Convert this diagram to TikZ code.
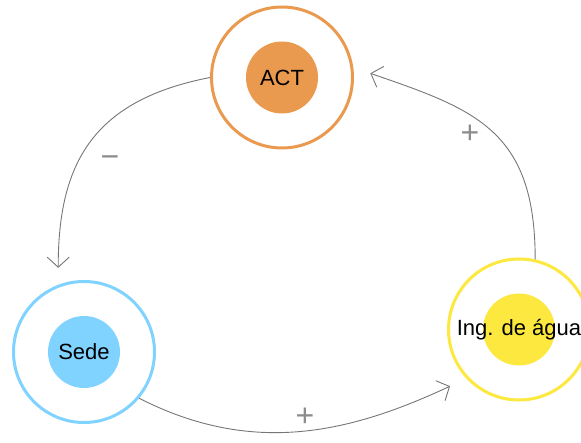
\documentclass[tikz,border=0pt]{standalone}
\usepackage{fontspec}
\setmainfont{Liberation Sans}
\usetikzlibrary{arrows.meta}
\definecolor{actorange}{RGB}{234,154,78}
\definecolor{sedeblue}{RGB}{128,210,255}
\definecolor{aguayellow}{RGB}{252,232,62}
\definecolor{linkgray}{RGB}{118,118,118}
\definecolor{signgray}{RGB}{140,140,140}
\tikzset{
  ring/.style={circle, draw=#1, line width=3pt, fill=white, minimum size=141pt, inner sep=0pt},
  core/.style={circle, fill=#1, minimum size=72pt, inner sep=0pt},
  lbl/.style={font=\fontsize{22}{24}\selectfont, text=black},
  link/.style={draw=linkgray, line width=0.9pt, -{Straight Barb[length=10pt, width=22pt, line width=0.9pt]}},
  sign/.style={font=\fontsize{32}{34}\selectfont, text=signgray}
}
\begin{document}
\begin{tikzpicture}[x=1pt, y=-1pt]
  \useasboundingbox (0,0) rectangle (581,443);
  % the three loop elements
  \node[ring=actorange] (act) at (282,77.5) {};
  \node[core=actorange] (actc) at (282,77.5) {};
  \node[lbl] at (actc) {ACT};
  \node[ring=sedeblue] (sede) at (84,352) {};
  \node[core=sedeblue] (sedec) at (84,352) {};
  \node[lbl] at (sedec) {Sede};
  \node[ring=aguayellow] (agua) at (519,329.5) {};
  \node[core=aguayellow] (aguac) at (519,329.5) {};
  \node[lbl] at (aguac) {Ing. de água};
  % causal links
  \draw[link, shorten >=17pt] (act.180) to[out=191, in=90, looseness=1.2] (sede.111);
  \draw[link, shorten >=18pt] (sede.-40) to[out=-27, in=205, looseness=1] (agua.223);
  \draw[link, shorten >=18pt] (agua.77) to[out=90, in=-19, looseness=1.25] (act.8);
  % link polarities
  \node[sign] (s1) at (110,162) {−};
  \node[sign] (s2) at (305,417) {+};
  \node[sign] (s3) at (470,134) {+};
\end{tikzpicture}
\end{document}
